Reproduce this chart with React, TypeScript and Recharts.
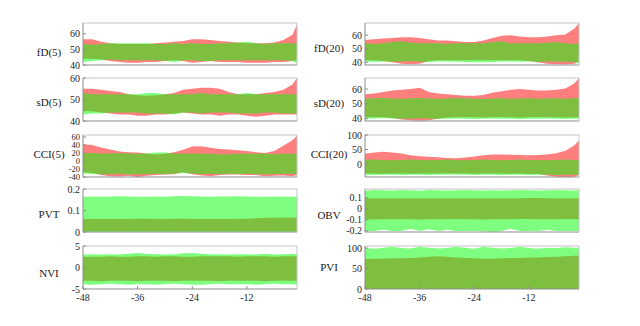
import React from 'react'
import { ComposedChart, Area, XAxis, YAxis } from 'recharts'

const steps = [-48, -46, -44, -42, -40, -38, -36, -34, -32, -30, -28, -26, -24, -22, -20, -18, -16, -14, -12, -10, -8, -6, -4, -2, -1]
const xTicks = [-48, -36, -24, -12]

// fD(5)
const fd5RedLo = [44, 44, 43.5, 42.5, 42, 41.5, 41.5, 42, 42, 42.5, 43, 42.5, 41.5, 42, 42.5, 42, 42, 42, 41.5, 41.5, 41.5, 42, 42, 42.5, 43]
const fd5RedHi = [56.5, 56.5, 55, 54, 53.5, 53.5, 53.5, 53.5, 54, 54.5, 55, 55.5, 56.5, 56.5, 56, 55.5, 55, 54.5, 54, 54, 54, 54.5, 56, 59.5, 66]
const fd5GreenLo = [42, 42.5, 43, 43.5, 43, 43, 43, 43, 43, 42.5, 42, 43, 43, 42.5, 42.5, 43, 43, 43, 43, 43, 43, 43, 43, 42.5, 41]
const fd5GreenHi = [53.5, 53, 53.5, 54, 54, 54, 54, 54, 53.5, 53.5, 54, 53.5, 54, 53.5, 53.5, 54, 54, 54.5, 55, 54, 53.5, 54, 54, 54, 54]

// sD(5)
const sd5RedLo = [44.5, 44.5, 44, 43.5, 43, 43, 42.5, 42.5, 43, 43, 43.5, 44, 43.5, 43, 43, 42.5, 43, 43, 42.5, 42, 42.5, 43, 43, 43, 43]
const sd5RedHi = [55, 55, 54.5, 54, 53.5, 52.5, 52, 51.8, 52, 52.5, 53, 54.5, 55, 55.5, 55.5, 55, 53.5, 52.5, 52.5, 52.5, 53, 53.5, 54.5, 57, 60]
const sd5GreenLo = [43, 43.5, 43.5, 44, 44, 44, 44, 43.5, 43.5, 43.5, 43, 44, 44, 43.5, 44, 44, 44, 43.5, 43.5, 43.5, 44, 44, 43.5, 43.5, 43.5]
const sd5GreenHi = [53, 52.5, 52.5, 52.5, 52.5, 52.5, 52.5, 53, 53, 52.5, 52.5, 52.5, 52.5, 53, 52.5, 52.5, 52.5, 52.5, 53, 52.5, 52.5, 52.5, 52.5, 52.5, 52.5]

// CCI(5)
const cci5RedLo = [-28, -30, -35, -38, -39, -37, -40, -37, -35, -34, -33, -28, -33, -36, -38, -35, -34, -34, -35, -35, -38, -37, -36, -38, -35]
const cci5RedHi = [42, 40, 34, 29, 24, 22, 21, 19, 16, 18, 22, 28, 36, 37, 33, 30, 29, 27, 25, 22, 20, 25, 38, 52, 63]
const cci5GreenLo = [-32, -32, -33, -33, -32, -34, -33, -33, -32, -33, -31, -30, -31, -33, -32, -33, -32, -33, -32, -33, -33, -33, -32, -32, -33]
const cci5GreenHi = [20, 20, 19, 19, 20, 19, 18, 19, 21, 21, 19, 18, 19, 18, 18, 17, 17, 18, 18, 19, 18, 17, 18, 18, 18]

// PVT
const pvtRedLo = [0.004, 0.004, 0.005, 0.004, 0.004, 0.005, 0.004, 0.004, 0.004, 0.005, 0.004, 0.004, 0.004, 0.005, 0.004, 0.004, 0.004, 0.005, 0.004, 0.004, 0.004, 0.004, 0.005, 0.004, 0.004]
const pvtRedHi = [0.06, 0.06, 0.06, 0.06, 0.061, 0.061, 0.062, 0.062, 0.061, 0.061, 0.062, 0.062, 0.061, 0.061, 0.061, 0.06, 0.06, 0.061, 0.062, 0.064, 0.066, 0.066, 0.066, 0.067, 0.067]
const pvtGreenLo = [0, 0, 0, 0, 0, 0, 0, 0, 0, 0, 0, 0, 0, 0, 0, 0, 0, 0, 0, 0, 0, 0, 0, 0, 0]
const pvtGreenHi = [0.164, 0.165, 0.164, 0.165, 0.166, 0.165, 0.164, 0.164, 0.165, 0.164, 0.166, 0.167, 0.166, 0.165, 0.164, 0.165, 0.165, 0.166, 0.165, 0.164, 0.164, 0.165, 0.165, 0.164, 0.164]

// NVI
const nviRedLo = [-3.1, -3.1, -3.2, -3.1, -3.1, -3.1, -3.2, -3.1, -3.1, -3.1, -3.2, -3.1, -3.1, -3.1, -3.1, -3.2, -3.1, -3.1, -3.1, -3.1, -3.2, -3.1, -3.1, -3.1, -3.1]
const nviRedHi = [2.5, 2.5, 2.5, 2.6, 2.5, 2.5, 2.6, 2.6, 2.5, 2.6, 2.6, 2.5, 2.5, 2.6, 2.6, 2.6, 2.6, 2.5, 2.6, 2.6, 2.6, 2.5, 2.6, 2.6, 2.6]
const nviGreenLo = [-3.9, -4.0, -3.9, -3.8, -3.9, -4.0, -3.9, -3.9, -4.0, -3.9, -3.8, -3.9, -4.0, -4.0, -3.9, -3.8, -3.9, -3.9, -3.9, -4.0, -3.9, -3.8, -3.9, -3.9, -4.0]
const nviGreenHi = [3.0, 3.1, 3.0, 3.1, 3.0, 3.2, 3.4, 3.2, 3.1, 3.0, 3.1, 3.3, 3.4, 3.2, 3.1, 3.1, 3.0, 3.1, 3.1, 3.0, 3.2, 3.0, 3.1, 3.2, 3.1]

// fD(20)
const fd20RedLo = [41.5, 41.5, 41, 40, 39, 38.5, 39, 41, 41.5, 41.5, 41.5, 41.5, 41.5, 41.5, 41.5, 41.5, 41.5, 41.5, 41, 40, 39, 38.5, 38.5, 39, 41]
const fd20RedHi = [56.5, 57, 57.5, 58, 58.5, 58.5, 58, 57, 56, 56, 55.5, 55, 55, 56, 58, 59.5, 60, 59, 58.5, 58.5, 59, 60, 60.5, 65, 69]
const fd20GreenLo = [40.5, 40.3, 40.6, 40.4, 40.5, 40.7, 40.4, 40.3, 40.5, 40.6, 40.4, 40.2, 40, 40.1, 40.3, 40.5, 40.6, 40.4, 40.5, 40.3, 40.6, 40.5, 40.4, 40.2, 39]
const fd20GreenHi = [54, 53.5, 54, 55, 55.5, 54.5, 54, 54, 54, 53.5, 54, 54, 54, 54, 55, 55.5, 54, 54, 54, 54, 54.5, 55, 54, 53.5, 54]

// sD(20)
const sd20RedLo = [41, 41.2, 41, 40.5, 39.5, 39, 38.6, 39, 40, 40.8, 41, 41.2, 41, 40.8, 41, 41.2, 41, 40.8, 41, 41.2, 41, 41, 40.8, 41, 41]
const sd20RedHi = [56.5, 57, 58, 59, 59.5, 60, 61, 58, 57, 56.5, 56, 55.5, 55.5, 56, 57.5, 58.5, 59.5, 60, 59.5, 59, 59, 59.5, 60.5, 64, 67.5]
const sd20GreenLo = [40, 40.2, 40.5, 40.2, 40, 40.1, 40.3, 40, 39.8, 40, 40.2, 40.1, 39.9, 40, 40.2, 40.1, 40, 39.8, 40, 40.1, 40.2, 40, 39.9, 40.1, 40]
const sd20GreenHi = [53.5, 53.8, 54, 53.6, 53.5, 53.8, 54, 53.7, 53.5, 53.6, 54, 53.8, 53.5, 53.4, 53.6, 53.8, 53.5, 53.6, 53.8, 53.5, 53.6, 53.8, 53.5, 53.8, 54]

// CCI(20)
const cci20RedLo = [-33, -33, -34, -33, -33, -34, -33, -33, -33, -32, -33, -33, -34, -33, -33, -33, -34, -33, -35, -35, -40, -44, -45, -44, -38]
const cci20RedHi = [35, 40, 42, 40, 36, 30, 27, 25, 23, 21, 20, 22, 26, 30, 33, 33, 32, 31, 30, 31, 33, 37, 46, 65, 82]
const cci20GreenLo = [-37, -38, -37, -37, -38, -37, -37, -38, -37, -37, -36, -37, -38, -37, -37, -38, -37, -37, -38, -37, -37, -38, -37, -37, -38]
const cci20GreenHi = [14, 15, 14, 13, 14, 15, 14, 13, 14, 15, 14, 13, 14, 15, 14, 13, 14, 15, 14, 14, 13, 14, 15, 14, 14]

// OBV
const obvRedLo = [-0.095, -0.096, -0.094, -0.095, -0.094, -0.095, -0.096, -0.095, -0.094, -0.095, -0.093, -0.094, -0.095, -0.096, -0.095, -0.094, -0.094, -0.092, -0.093, -0.094, -0.095, -0.094, -0.093, -0.095, -0.094]
const obvRedHi = [0.095, 0.095, 0.096, 0.095, 0.096, 0.097, 0.097, 0.097, 0.096, 0.095, 0.095, 0.095, 0.096, 0.096, 0.097, 0.096, 0.095, 0.097, 0.098, 0.098, 0.097, 0.096, 0.096, 0.095, 0.096]
const obvGreenLo = [-0.2, -0.2, -0.19, -0.2, -0.2, -0.18, -0.2, -0.185, -0.2, -0.19, -0.2, -0.2, -0.2, -0.2, -0.21, -0.2, -0.18, -0.2, -0.2, -0.2, -0.19, -0.2, -0.2, -0.2, -0.2]
const obvGreenHi = [0.165, 0.17, 0.168, 0.167, 0.17, 0.168, 0.165, 0.17, 0.168, 0.166, 0.168, 0.17, 0.168, 0.167, 0.168, 0.166, 0.168, 0.17, 0.169, 0.167, 0.168, 0.17, 0.168, 0.167, 0.168]

// PVI
const pviRedLo = [0, 0, 0, 0, 0, 0, 0, 0, 0, 0, 0, 0, 0, 0, 0, 0, 0, 0, 0, 0, 0, 0, 0, 0, 0]
const pviRedHi = [73, 74, 74, 75, 75, 76, 77, 79, 80, 79, 77, 76, 75, 74, 74, 75, 76, 76, 77, 77, 78, 79, 80, 81, 82]
const pviGreenLo = [0, 0, 0, 0, 0, 0, 0, 0, 0, 0, 0, 0, 0, 0, 0, 0, 0, 0, 0, 0, 0, 0, 0, 0, 0]
const pviGreenHi = [100, 98, 101, 103, 100, 99, 103, 101, 99, 100, 103, 101, 98, 103, 101, 99, 100, 103, 100, 98, 101, 100, 102, 101, 101]

const serif = '"Liberation Serif", "DejaVu Serif", serif'
const PAD = 6

interface PanelProps {
  label: string
  domain: [number, number]
  ticks: number[]
  redLo: number[]
  redHi: number[]
  greenLo: number[]
  greenHi: number[]
  left: number
  top: number
  bottom: number
  labelX: number
  labelY: number
  showX?: boolean
  tickFont?: number
}

function Panel(p: PanelProps) {
  const data = steps.map((x, i) => ({
    x,
    red: [p.redLo[i], p.redHi[i]],
    green: [p.greenLo[i], p.greenHi[i]],
  }))
  const xh = p.showX ? 22 : 1
  const h = PAD + 1 + (p.bottom - p.top) + xh + PAD
  const xTickStyle = { fill: '#262626', fontSize: 10, fontFamily: serif }
  const yTickStyle = { fill: '#262626', fontSize: p.tickFont ?? 10, fontFamily: serif }
  return (
    <>
      <div
        style={{
          position: 'absolute',
          left: p.labelX - 40,
          width: 80,
          top: p.labelY - 7,
          textAlign: 'center',
          fontSize: 11,
          lineHeight: '14px',
          color: '#1a1a1a',
        }}
      >
        {p.label}
      </div>
      <div style={{ position: 'absolute', left: p.left, top: p.top - 1 - PAD }}>
        <ComposedChart width={262} height={h} data={data} margin={{ top: PAD, right: 4, bottom: PAD, left: 0 }}>
          <Area dataKey="red" type="linear" stroke="none" fill="#ff0000" fillOpacity={0.5} isAnimationActive={false} />
          <Area dataKey="green" type="linear" stroke="none" fill="#00ff00" fillOpacity={0.5} isAnimationActive={false} />
          <XAxis
            dataKey="x"
            type="number"
            domain={[-48, -1]}
            ticks={xTicks}
            interval={0}
            height={xh}
            tick={p.showX ? xTickStyle : false}
            tickSize={-3}
            tickMargin={8}
            stroke="#8c8c8c"
          />
          <XAxis
            xAxisId="t"
            orientation="top"
            type="number"
            domain={[-48, -1]}
            ticks={xTicks}
            height={1}
            tick={false}
            tickSize={-3}
            stroke="#c4c4c4"
          />
          <YAxis
            type="number"
            domain={p.domain}
            ticks={p.ticks}
            interval={0}
            width={43}
            tick={yTickStyle}
            tickSize={-3}
            tickMargin={6}
            stroke="#8c8c8c"
            allowDataOverflow
          />
          <YAxis
            yAxisId="r"
            orientation="right"
            type="number"
            domain={p.domain}
            ticks={p.ticks}
            width={1}
            tick={false}
            tickSize={-3}
            stroke="#c4c4c4"
          />
        </ComposedChart>
      </div>
    </>
  )
}

const L = 40
const R = 322
const LX = 49
const RX = 329

export default function App() {
  return (
    <div
      style={{
        position: 'absolute',
        left: 0,
        top: 0,
        width: 640,
        height: 326,
        background: '#fff',
        fontFamily: serif,
      }}
    >
      <Panel label="fD(5)" domain={[40, 67]} ticks={[40, 50, 60]} redLo={fd5RedLo} redHi={fd5RedHi} greenLo={fd5GreenLo} greenHi={fd5GreenHi} left={L} top={23} bottom={65} labelX={LX} labelY={52} />
      <Panel label="sD(5)" domain={[40, 60]} ticks={[40, 50, 60]} redLo={sd5RedLo} redHi={sd5RedHi} greenLo={sd5GreenLo} greenHi={sd5GreenHi} left={L} top={78} bottom={121} labelX={LX} labelY={102} />
      <Panel label="CCI(5)" domain={[-40, 65]} ticks={[-40, -20, 0, 20, 40, 60]} tickFont={8.5} redLo={cci5RedLo} redHi={cci5RedHi} greenLo={cci5GreenLo} greenHi={cci5GreenHi} left={L} top={135} bottom={177} labelX={LX} labelY={154} />
      <Panel label="PVT" domain={[0, 0.2]} ticks={[0, 0.1, 0.2]} redLo={pvtRedLo} redHi={pvtRedHi} greenLo={pvtGreenLo} greenHi={pvtGreenHi} left={L} top={189} bottom={232} labelX={LX} labelY={214} />
      <Panel label="NVI" domain={[-5, 5]} ticks={[-5, 0, 5]} redLo={nviRedLo} redHi={nviRedHi} greenLo={nviGreenLo} greenHi={nviGreenHi} left={L} top={246} bottom={289} labelX={LX} labelY={273} showX />

      <Panel label="fD(20)" domain={[38, 69]} ticks={[40, 50, 60]} redLo={fd20RedLo} redHi={fd20RedHi} greenLo={fd20GreenLo} greenHi={fd20GreenHi} left={R} top={23} bottom={65} labelX={RX} labelY={48} />
      <Panel label="sD(20)" domain={[38.5, 67.5]} ticks={[40, 50, 60]} redLo={sd20RedLo} redHi={sd20RedHi} greenLo={sd20GreenLo} greenHi={sd20GreenHi} left={R} top={78} bottom={121} labelX={RX} labelY={103} />
      <Panel label="CCI(20)" domain={[-45, 100]} ticks={[0, 50, 100]} redLo={cci20RedLo} redHi={cci20RedHi} greenLo={cci20GreenLo} greenHi={cci20GreenHi} left={R} top={135} bottom={177} labelX={RX} labelY={154} />
      <Panel label="OBV" domain={[-0.21, 0.18]} ticks={[-0.2, -0.1, 0, 0.1]} redLo={obvRedLo} redHi={obvRedHi} greenLo={obvGreenLo} greenHi={obvGreenHi} left={R} top={189} bottom={232} labelX={RX} labelY={215} />
      <Panel label="PVI" domain={[0, 105]} ticks={[0, 50, 100]} redLo={pviRedLo} redHi={pviRedHi} greenLo={pviGreenLo} greenHi={pviGreenHi} left={R} top={246} bottom={289} labelX={RX} labelY={267} showX />
    </div>
  )
}
